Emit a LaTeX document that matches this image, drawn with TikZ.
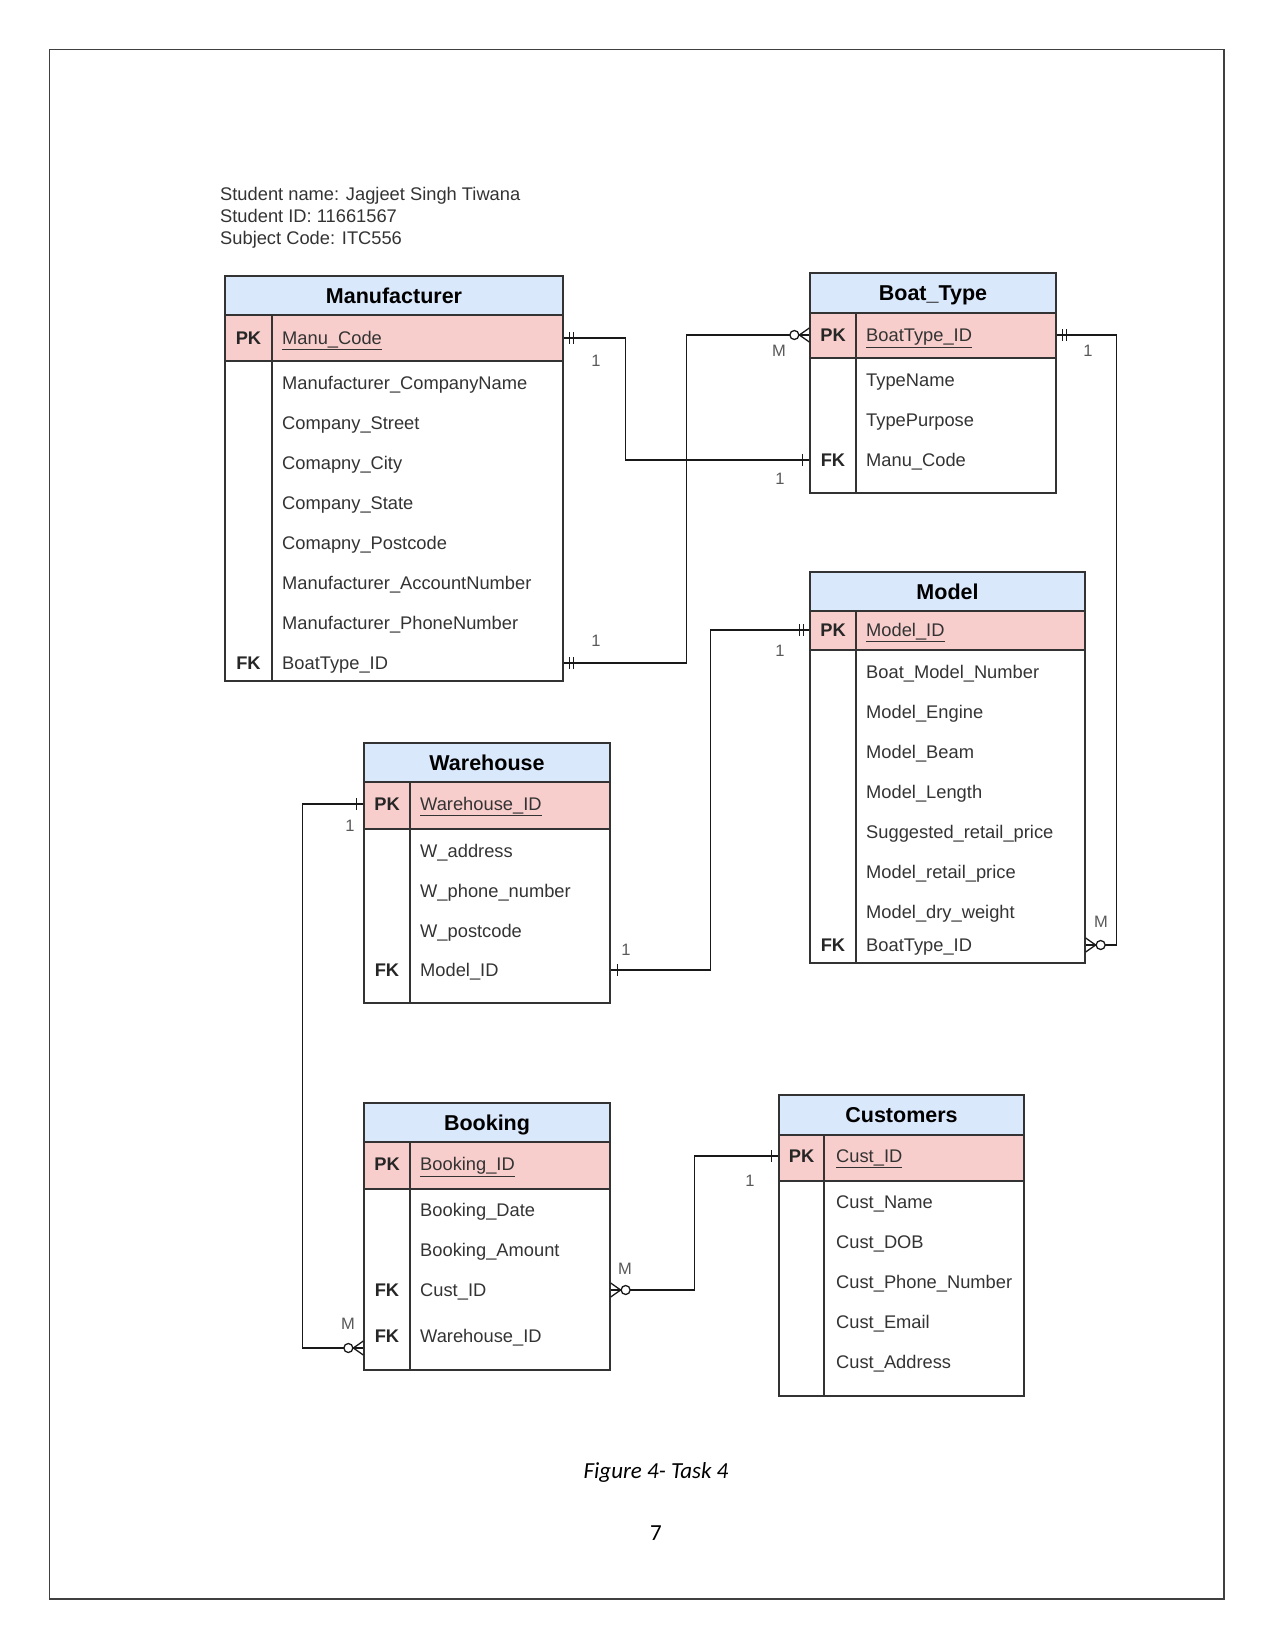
\documentclass[tikz,border=0pt]{standalone}
\usepackage{fontspec}
\setmainfont{Liberation Sans}
\newfontfamily\capfont{Carlito}
\usetikzlibrary{calc,fit}
\definecolor{hdrblue}{HTML}{DAE8FC}
\definecolor{pkpink}{HTML}{F8CECC}
\def\mandone(#1)[#2]{\draw[relline] ($(#1)+(#2*6,-6)$) -- ++(0,12) ($(#1)+(#2*10,-6)$) -- ++(0,12);}
\def\justone(#1)[#2]{\draw[relline] ($(#1)+(#2*7,-6)$) -- ++(0,12);}
\def\zeromany(#1)[#2]{\draw[relline] ($(#1)+(0,-7)$) -- ($(#1)+(#2*10,0)$) -- ($(#1)+(0,7)$); \draw[relline,fill=white] ($(#1)+(#2*15,0)$) circle (4.5pt);}
\tikzset{
  tbl/.style={draw=black!80, line width=1.3pt, inner sep=0pt},
  hdr/.style={fill=hdrblue, draw=black!80, line width=1.3pt},
  pkrow/.style={fill=pkpink, draw=black!80, line width=1.3pt},
  tblname/.style={font=\fontsize{21.5}{24}\selectfont\bfseries, text height=15.4pt, text depth=0pt, inner sep=0pt},
  attr/.style={anchor=west, font=\fontsize{18.3}{22}\selectfont, text=black!80, text height=13.1pt, text depth=0pt, inner sep=0pt},
  keycol/.style={font=\fontsize{18.3}{22}\selectfont\bfseries, text=black!85, text height=13.1pt, text depth=0pt, inner sep=0pt},
  cardlbl/.style={font=\fontsize{16.5}{20}\selectfont, text=black!65, text height=11.8pt, text depth=0pt, inner sep=0pt},
  relline/.style={line width=1.3pt, black!90}
}
\begin{document}
\begin{tikzpicture}[x=1pt, y=-1pt]
		\useasboundingbox (0,0) rectangle (1275,1651);
		\draw[black!75, line width=1.3pt] (49.5,49.5) rectangle (1224,1599);
		
		% student details
		\node[attr] (info1) at (220,194) {Student name: Jagjeet Singh Tiwana};
		\node[attr] (info2) at (220,216) {Student ID: 11661567};
		\node[attr] (info3) at (220,238) {Subject Code: ITC556};
		
		% Manufacturer
		\filldraw[hdr] (225,276) rectangle (563,315);
		\filldraw[pkrow] (225,315) rectangle (563,361);
		\node[tbl, fit={(225,276) (563,681)}] (mfbox) {};
		\draw[tbl] (272,315) -- (272,681);
		\node[tblname] (mf) at (394,295.5) {Manufacturer};
		\node[keycol] (mfpkk) at (248.5,338) {PK};
		\node[attr] (mfpk) at (282,338) {\underline{Manu\_Code}};
		\node[attr] (mfname) at (282,383) {Manufacturer\_CompanyName};
		\node[attr] (mfstreet) at (282,423) {Company\_Street};
		\node[attr] (mfcity) at (282,463) {Comapny\_City};
		\node[attr] (mfstate) at (282,503) {Company\_State};
		\node[attr] (mfpost) at (282,543) {Comapny\_Postcode};
		\node[attr] (mfacc) at (282,583) {Manufacturer\_AccountNumber};
		\node[attr] (mfphone) at (282,623) {Manufacturer\_PhoneNumber};
		\node[keycol] (mffkk) at (248.5,663) {FK};
		\node[attr] (mfbt) at (282,663) {BoatType\_ID};
		
		% Boat_Type
		\filldraw[hdr] (810,273) rectangle (1056,313);
		\filldraw[pkrow] (810,313) rectangle (1056,358);
		\node[tbl, fit={(810,273) (1056,493)}] (btbox) {};
		\draw[tbl] (856,313) -- (856,493);
		\node[tblname] (bt) at (933,293) {Boat\_Type};
		\node[keycol] (btpkk) at (833,335) {PK};
		\node[attr] (btpk) at (866,335) {\underline{BoatType\_ID}};
		\node[attr] (btname) at (866,380) {TypeName};
		\node[attr] (btpurp) at (866,420) {TypePurpose};
		\node[keycol] (btfkk) at (833,460) {FK};
		\node[attr] (btfk) at (866,460) {Manu\_Code};
		
		% Model
		\filldraw[hdr] (810,572) rectangle (1085,611);
		\filldraw[pkrow] (810,611) rectangle (1085,650);
		\node[tbl, fit={(810,572) (1085,963)}] (mdbox) {};
		\draw[tbl] (856,611) -- (856,963);
		\node[tblname] (md) at (947.5,591.5) {Model};
		\node[keycol] (mdpkk) at (833,630) {PK};
		\node[attr] (mdpk) at (866,630) {\underline{Model\_ID}};
		\node[attr] (mdnum) at (866,672) {Boat\_Model\_Number};
		\node[attr] (mdeng) at (866,712) {Model\_Engine};
		\node[attr] (mdbeam) at (866,752) {Model\_Beam};
		\node[attr] (mdlen) at (866,792) {Model\_Length};
		\node[attr] (mdsugg) at (866,832) {Suggested\_retail\_price};
		\node[attr] (mdret) at (866,872) {Model\_retail\_price};
		\node[attr] (mddry) at (866,912) {Model\_dry\_weight};
		\node[keycol] (mdfkk) at (833,945) {FK};
		\node[attr] (mdfk) at (866,945) {BoatType\_ID};
		
		% Warehouse
		\filldraw[hdr] (364,743) rectangle (610,782);
		\filldraw[pkrow] (364,782) rectangle (610,829);
		\node[tbl, fit={(364,743) (610,1003)}] (whbox) {};
		\draw[tbl] (410,782) -- (410,1003);
		\node[tblname] (wh) at (487,762.5) {Warehouse};
		\node[keycol] (whpkk) at (387,804) {PK};
		\node[attr] (whpk) at (420,804) {\underline{Warehouse\_ID}};
		\node[attr] (whaddr) at (420,851) {W\_address};
		\node[attr] (whphone) at (420,891) {W\_phone\_number};
		\node[attr] (whpost) at (420,931) {W\_postcode};
		\node[keycol] (whfkk) at (387,970) {FK};
		\node[attr] (whfk) at (420,970) {Model\_ID};
		
		% Booking
		\filldraw[hdr] (364,1103) rectangle (610,1142);
		\filldraw[pkrow] (364,1142) rectangle (610,1189);
		\node[tbl, fit={(364,1103) (610,1370)}] (bkbox) {};
		\draw[tbl] (410,1142) -- (410,1370);
		\node[tblname] (bk) at (487,1122.5) {Booking};
		\node[keycol] (bkpkk) at (387,1164) {PK};
		\node[attr] (bkpk) at (420,1164) {\underline{Booking\_ID}};
		\node[attr] (bkdate) at (420,1210) {Booking\_Date};
		\node[attr] (bkamt) at (420,1250) {Booking\_Amount};
		\node[keycol] (bkfkk1) at (387,1290) {FK};
		\node[attr] (bkcu) at (420,1290) {Cust\_ID};
		\node[keycol] (bkfkk2) at (387,1336) {FK};
		\node[attr] (bkwh) at (420,1336) {Warehouse\_ID};
		
		% Customers
		\filldraw[hdr] (779,1095) rectangle (1024,1135);
		\filldraw[pkrow] (779,1135) rectangle (1024,1181);
		\node[tbl, fit={(779,1095) (1024,1396)}] (cubox) {};
		\draw[tbl] (824,1135) -- (824,1396);
		\node[tblname] (cu) at (901.5,1115) {Customers};
		\node[keycol] (cupkk) at (801.5,1156) {PK};
		\node[attr] (cupk) at (836,1156) {\underline{Cust\_ID}};
		\node[attr] (cuname) at (836,1202) {Cust\_Name};
		\node[attr] (cudob) at (836,1242) {Cust\_DOB};
		\node[attr] (cuphone) at (836,1282) {Cust\_Phone\_Number};
		\node[attr] (cumail) at (836,1322) {Cust\_Email};
		\node[attr] (cuaddr) at (836,1362) {Cust\_Address};
		
		% relationships
		\coordinate (c1a) at (mfpk -| mfbox.east);
		\coordinate (c1b) at (btfk -| btbox.west);
		\draw[relline] (c1a) -- ++(62,0) |- (c1b);
		\mandone(c1a)[1]
		\justone(c1b)[-1]
		
		\coordinate (c2a) at (mfbt -| mfbox.east);
		\coordinate (c2b) at (btpk -| btbox.west);
		\draw[relline] (c2a) -- ++(123,0) |- (c2b);
		\mandone(c2a)[1]
		\zeromany(c2b)[-1]
		
		\coordinate (c3a) at (btpk -| btbox.east);
		\coordinate (c3b) at (mdfk -| mdbox.east);
		\draw[relline] (c3a) -- ++(60,0) |- (c3b);
		\mandone(c3a)[1]
		\zeromany(c3b)[1]
		
		\coordinate (c4a) at (whfk -| whbox.east);
		\coordinate (c4b) at (mdpk -| mdbox.west);
		\draw[relline] (c4a) -- ++(100,0) |- (c4b);
		\justone(c4a)[1]
		\mandone(c4b)[-1]
		
		\coordinate (c5a) at (whpk -| whbox.west);
		\coordinate (c5b) at ($(bkwh -| bkbox.west)+(0,12)$);
		\draw[relline] (c5a) -- ++(-61,0) |- (c5b);
		\justone(c5a)[-1]
		\zeromany(c5b)[-1]
		
		\coordinate (c6a) at (bkcu -| bkbox.east);
		\coordinate (c6b) at (cupk -| cubox.west);
		\draw[relline] (c6a) -- ++(84,0) |- (c6b);
		\zeromany(c6a)[1]
		\justone(c6b)[-1]
		
		% cardinalities
		\node[cardlbl] (n1a) at (596,361) {1};
		\node[cardlbl] (n1b) at (780,479) {1};
		\node[cardlbl] (n2a) at (596,641) {1};
		\node[cardlbl] (n2b) at (779,351) {M};
		\node[cardlbl] (n3a) at (1088,351) {1};
		\node[cardlbl] (n3b) at (1101,922) {M};
		\node[cardlbl] (n4a) at (626,950) {1};
		\node[cardlbl] (n4b) at (780,651) {1};
		\node[cardlbl] (n5a) at (350,826) {1};
		\node[cardlbl] (n5b) at (348,1324) {M};
		\node[cardlbl] (n6a) at (625,1269) {M};
		\node[cardlbl] (n6b) at (750,1181) {1};
		
		% caption
		\node[font=\capfont\itshape\fontsize{23}{26}\selectfont] (cap) at (656,1472) {Figure 4- Task 4};
		\node[font=\capfont\fontsize{23}{26}\selectfont] (pg) at (656,1533) {7};
\end{tikzpicture}
\end{document}
